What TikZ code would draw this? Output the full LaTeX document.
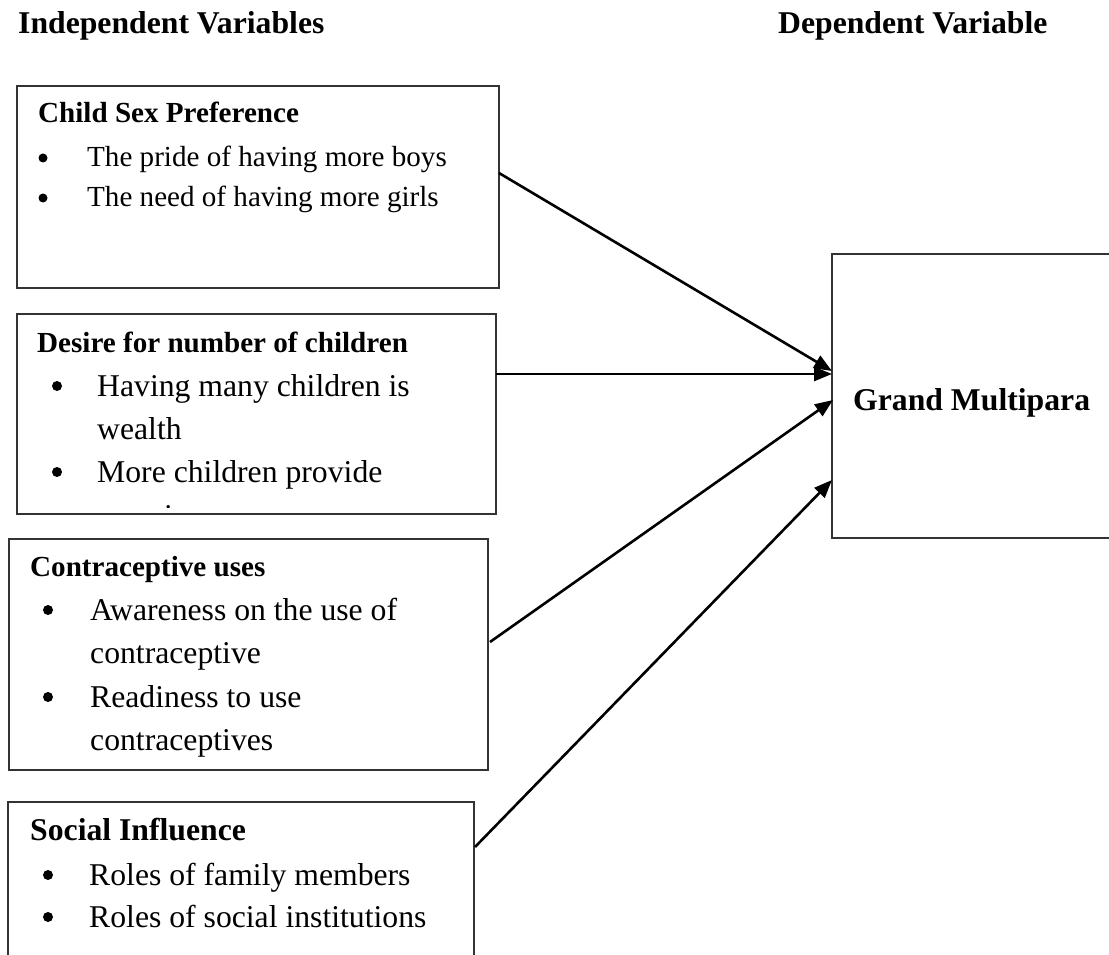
\documentclass[tikz,border=0pt]{standalone}
\usepackage{fontspec}
\setmainfont{Liberation Serif}
\usetikzlibrary{arrows.meta}
\begin{document}
\begin{tikzpicture}[x=1pt,y=-1pt,
  box/.style={draw=black!80, line width=1.2pt, outer sep=0pt, inner sep=0pt, anchor=north west},
  ttl/.style={anchor=base west, inner sep=0pt, font=\bfseries\fontsize{31.7}{38}\selectfont},
  hds/.style={anchor=base west, inner sep=0pt, font=\bfseries\fontsize{29.1}{35}\selectfont},
  hdl/.style={anchor=base west, inner sep=0pt, font=\bfseries\fontsize{31.7}{38}\selectfont},
  its/.style={anchor=base west, inner sep=0pt, font=\fontsize{29.1}{35}\selectfont},
  itl/.style={anchor=base west, inner sep=0pt, font=\fontsize{31.7}{38}\selectfont},
  bul/.style={circle, fill=black, inner sep=0pt, minimum size=10pt},
  buls/.style={circle, fill=black, inner sep=0pt, minimum size=9pt},
  link/.style={line width=2.6pt, -{Triangle[length=18pt,width=14pt]}}
]
\useasboundingbox (0,0) rectangle (1109,955);

% titles
\node[ttl] (tind) at (18,34) {Independent Variables};
\node[ttl] (tdep) at (778,34) {Dependent Variable};

% box 1
\node[box, minimum width=482pt, minimum height=202pt] (b1) at (17,86) {};
\node[hds] (h1) at (38,123) {Child Sex Preference};
\node[buls] (u11) at (43,158) {};
\node[its] (i11) at (87,167) {The pride of having more boys};
\node[buls] (u12) at (43,198) {};
\node[its] (i12) at (87,207) {The need of having more girls};

% box 2
\node[box, minimum width=479pt, minimum height=200pt] (b2) at (17,314) {};
\node[hds] (h2) at (37,352) {Desire for number of children};
\node[bul] (u21) at (57,386) {};
\node[itl] (i21) at (97,396) {Having many children is};
\node[itl] (i22) at (97,439) {wealth};
\node[bul] (u23) at (57,472) {};
\node[itl] (i23) at (97,482) {More children provide};
\begin{scope}
  \clip (17,490) rectangle (496,507.5);
  \node[itl] (i24) at (97,526) {security};
\end{scope}

% box 3
\node[box, minimum width=479pt, minimum height=231pt] (b3) at (9,539) {};
\node[hds] (h3) at (30,576) {Contraceptive uses};
\node[bul] (u31) at (48,610) {};
\node[itl] (i31) at (90,620) {Awareness on the use of};
\node[itl] (i32) at (90,663.5) {contraceptive};
\node[bul] (u33) at (48,697) {};
\node[itl] (i33) at (90,707) {Readiness to use};
\node[itl] (i34) at (90,750.5) {contraceptives};

% box 4
\node[box, minimum width=466pt, minimum height=175pt] (b4) at (8,802) {};
\node[hdl] (h4) at (30,840) {Social Influence};
\node[bul] (u41) at (48,875) {};
\node[itl] (i41) at (89,885) {Roles of family members};
\node[bul] (u42) at (48,917) {};
\node[itl] (i42) at (89,927) {Roles of social institutions};

% box 5
\node[box, minimum width=285pt, minimum height=284pt] (b5) at (832,254) {};
\node[hdl] (g) at (853,410) {Grand Multipara};

% connectors
\draw[link] (b1.east |- 0,173) -- (b5.west |- 0,371);
\draw[link] (b2.east |- 0,374) -- (b5.west |- 0,374);
\draw[link] ([xshift=2pt]b3.east |- 0,642) -- ([xshift=1pt]b5.west |- 0,400);
\draw[link] ([xshift=1pt]b4.east |- 0,847) -- (b5.west |- 0,480);
\end{tikzpicture}
\end{document}
